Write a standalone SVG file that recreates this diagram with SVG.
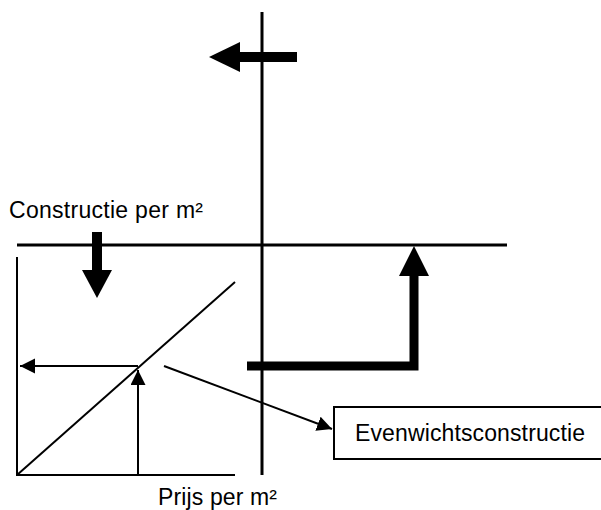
<svg xmlns="http://www.w3.org/2000/svg" width="601" height="510" viewBox="0 0 601 510">
<style>
text{font-family:"Liberation Sans",Arial,sans-serif;font-size:23px;fill:#000}
.thick{stroke:#000;stroke-width:3;fill:none}
.thin{stroke:#000;stroke-width:2;fill:none}
.bar{stroke:#000;stroke-width:10;fill:none}
.head{fill:#000;stroke:none}
</style>
<defs>
<marker id="ah" markerWidth="16" markerHeight="16" refX="15" refY="7.5" orient="auto" markerUnits="userSpaceOnUse">
<path d="M0,0 L15,7.5 L0,15 Z" fill="#000"/>
</marker>
</defs>
<g id="axes">
<line class="thick" x1="262" y1="12" x2="262" y2="475"/>
<line class="thick" x1="17" y1="245" x2="507" y2="245"/>
<line class="thin" x1="17" y1="257" x2="17" y2="476"/>
<line class="thin" x1="16" y1="475" x2="235" y2="475"/>
<line class="thin" x1="17" y1="475" x2="235" y2="282"/>
</g>
<g id="connectors">
<line class="thin" x1="138" y1="366" x2="20" y2="366" marker-end="url(#ah)"/>
<line class="thin" x1="138" y1="475" x2="138" y2="370" marker-end="url(#ah)"/>
<line class="thin" x1="164" y1="366" x2="332" y2="429" marker-end="url(#ah)"/>
</g>
<g id="arrow-top">
<line class="bar" x1="297" y1="57" x2="238" y2="57"/>
<polygon class="head" points="209,57 240,42 240,72"/>
</g>
<g id="arrow-down">
<line class="bar" x1="97" y1="232" x2="97" y2="272"/>
<polygon class="head" points="82,270 112,270 97,298"/>
</g>
<g id="arrow-right">
<polyline class="bar" points="247,366 414,366 414,273" style="stroke-width:9"/>
<polygon class="head" points="399,276 429,276 414,246"/>
</g>
<g id="label-constructie">
<text x="9" y="218" textLength="194">Constructie per m²</text>
</g>
<g id="label-prijs">
<text x="158" y="505" textLength="119">Prijs per m²</text>
</g>
<g id="box-evenwicht">
<rect x="334" y="407" width="280" height="52" fill="#fff" stroke="#000" stroke-width="2"/>
<text x="355" y="441" textLength="230">Evenwichtsconstructie</text>
</g>
</svg>
